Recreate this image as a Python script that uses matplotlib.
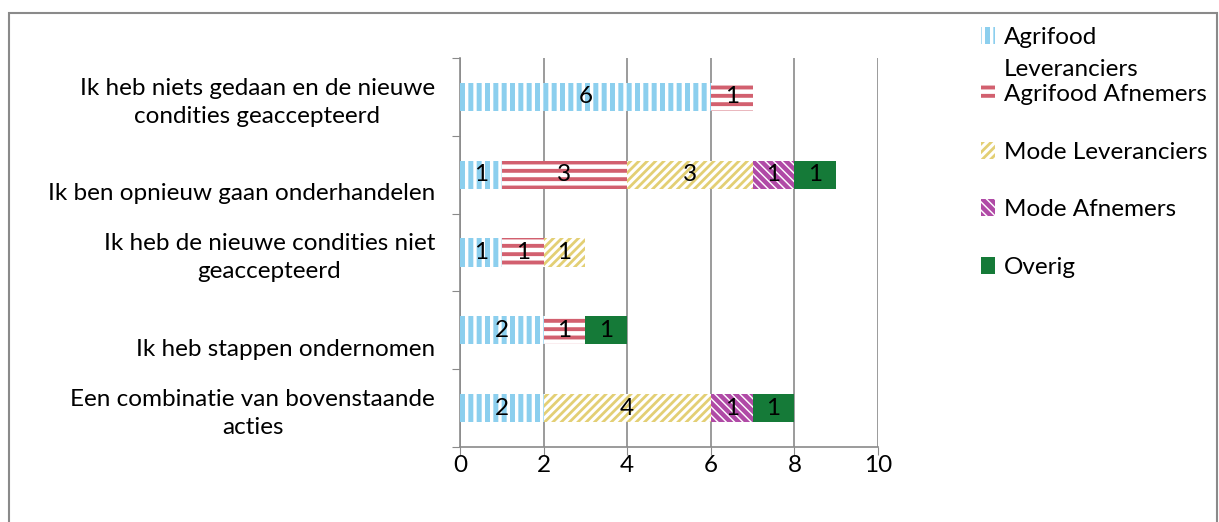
import matplotlib
matplotlib.use("Agg")
import matplotlib.pyplot as plt
from matplotlib.patches import Rectangle, Patch
import numpy as np

categories = [
    "Ik heb niets gedaan en de nieuwe\ncondities geaccepteerd",
    "\nIk ben opnieuw gaan onderhandelen",
    "Ik heb de nieuwe condities niet\ngeaccepteerd",
    "\nIk heb stappen ondernomen",
    "Een combinatie van bovenstaande\nacties",
]
series_names = ["Agrifood", "Agrifood Afnemers", "Mode Leveranciers",
                "Mode Afnemers", "Overig"]
first_name_rest = "Leveranciers"
agri_lev = [6, 1, 1, 2, 2]
agri_afn = [1, 3, 1, 1, 0]
mode_lev = [0, 3, 1, 0, 4]
mode_afn = [0, 1, 0, 0, 1]
overig = [0, 1, 0, 1, 1]
x_ticks = [0, 2, 4, 6, 8, 10]

colors = ["#8ccfee", "#d2606f", "#e3cf74", "#b04aa6", "#157a38"]
hatches = ["||", "--", "////", "\\\\\\\\", None]
hatch_lw = [3.6, 2.8, 2.0, 3.2, 1.0]

plt.rcParams["font.family"] = ["Lato", "DejaVu Sans"]


def set_hlw(patch, lw):
    if hasattr(patch, "set_hatch_linewidth"):
        patch.set_hatch_linewidth(lw)
    else:
        patch._hatch_linewidth = lw


fs = 17.5
fig = plt.figure(figsize=(12.19, 5.22), dpi=100)
ax = fig.add_axes([460 / 1219, 1 - 447 / 522, 418 / 1219, 389 / 522])

# outer chart frame
fig.patches.append(Rectangle((9 / 1219, -0.05), 1208 / 1219, 1.05 - 13 / 522,
                             transform=fig.transFigure, fill=False,
                             edgecolor="#8a8a8a", linewidth=1.5))

y = np.arange(len(categories))
data = [agri_lev, agri_afn, mode_lev, mode_afn, overig]
left = np.zeros(len(categories))
handles = []
for vals, col, h, hlw in zip(data, colors, hatches, hatch_lw):
    vals = np.array(vals, dtype=float)
    if h is None:
        bars = ax.barh(y, vals, left=left, height=0.36, color=col, linewidth=0, zorder=3)
    else:
        bars = ax.barh(y, vals, left=left, height=0.36, facecolor="white",
                       edgecolor=col, hatch=h, linewidth=0, zorder=3)
    for b in bars:
        set_hlw(b, hlw)
    handles.append(Patch(facecolor="white" if h else col, edgecolor=col, hatch=h,
                         linewidth=0))
    for b, v, l in zip(bars, vals, left):
        if v > 0:
            ax.text(l + v / 2, b.get_y() + b.get_height() / 2, "%d" % v,
                    ha="center", va="center", fontsize=fs, color="black", zorder=4)
    left += vals

ax.set_xlim(0, 10)
ax.set_ylim(len(categories) - 0.5, -0.5)
ax.set_xticks(x_ticks)
ax.tick_params(axis="x", labelsize=fs, length=6, color="#8a8a8a", pad=0)
ax.set_yticks(np.arange(-0.5, len(categories)), labels=[])
ax.set_yticks(y, minor=True)
ax.set_yticklabels(categories, minor=True, fontsize=fs, multialignment="center",
                   linespacing=1.4)
ax.tick_params(axis="y", which="major", length=6, color="#8a8a8a")
ax.tick_params(axis="y", which="minor", length=0, pad=18)

ax.grid(axis="x", color="#8a8a8a", linewidth=1.2, zorder=0)
for s in ["top", "right"]:
    ax.spines[s].set_visible(False)
for s in ["left", "bottom"]:
    ax.spines[s].set_color("#8a8a8a")
    ax.spines[s].set_linewidth(1.2)

leg = fig.legend(handles, series_names, loc="upper left",
                 bbox_to_anchor=(959 / 1219, 1 - 5 / 522),
                 frameon=False, fontsize=fs, handlelength=0.6, handleheight=0.7,
                 handletextpad=0.35, labelspacing=1.5)
for lh, hlw in zip(leg.legend_handles, hatch_lw):
    set_hlw(lh, hlw)

# second line of the first legend entry overlaps the spacing, as in the original
fig.canvas.draw()
bb = leg.get_texts()[0].get_window_extent()
fig.text(bb.x0 / 1219, (bb.y0 + bb.y1) / 2 / 522 - 32 / 522, first_name_rest,
         fontsize=fs, ha="left", va="center")

fig.savefig("out.png", dpi=100)
